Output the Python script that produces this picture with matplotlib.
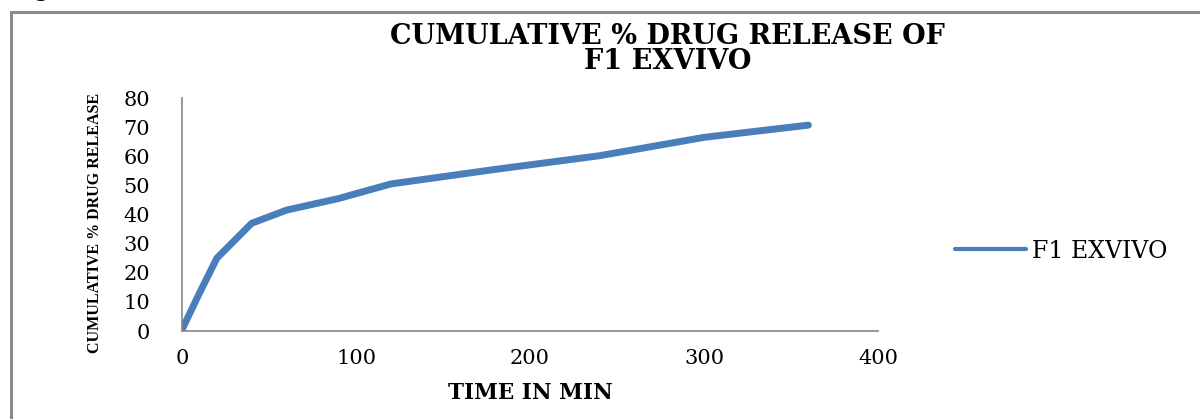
import matplotlib.pyplot as plt
import matplotlib.patches as patches
import numpy as np

# tempo (min) e rilascio cumulativo (%) della formulazione F1
tempo = [0, 10, 20, 30, 40, 60, 90, 120, 180, 240, 300, 360]
rilascio = [0.5, 13, 25, 31, 37, 41.5, 45.5, 50.5, 55.5, 60.2, 66.5, 70.7]
serie = "F1 EXVIVO"
yticks = [0, 10, 20, 30, 40, 50, 60, 70, 80]
xticks = [0, 100, 200, 300, 400]

blu = '#4A7EBB'
grigio = '#868686'
serif = ['DejaVu Serif']

fig = plt.figure(figsize=(12, 4.19), dpi=100)
ax = fig.add_axes([0.1517, 0.21, 0.58, 0.556])

ax.plot(tempo, rilascio, color=blu, linewidth=5, solid_capstyle='round',
        solid_joinstyle='round', label=serie)

ax.set_xlim(0, 400)
ax.set_ylim(0, 80)
ax.set_xticks(xticks)
ax.set_yticks(yticks)
ax.tick_params(length=0, labelsize=15)
ax.tick_params(axis='y', pad=23)
ax.tick_params(axis='x', pad=13)
for lab in ax.get_xticklabels() + ax.get_yticklabels():
    lab.set_family(serif)

for s in ['top', 'right']:
    ax.spines[s].set_visible(False)
for s in ['left', 'bottom']:
    ax.spines[s].set_color(grigio)
    ax.spines[s].set_linewidth(1.2)

ax.set_xlabel("TIME IN MIN", family=serif, fontweight='bold', fontsize=15.5,
              labelpad=10)
ax.set_ylabel("CUMULATIVE % DRUG RELEASE",
              family=['Liberation Serif', 'DejaVu Serif'],
              fontsize=11.5, fontweight='bold')
ax.yaxis.set_label_coords(-0.114, 0.463)

fig.text(0.556, 0.945, "CUMULATIVE % DRUG RELEASE OF\nF1 EXVIVO",
         ha='center', va='top', family=serif, fontweight='bold',
         fontsize=19.5, linespacing=0.88)

leg = ax.legend(loc='center left', bbox_to_anchor=(1.08, 0.343), frameon=False,
                handlelength=3.0, handletextpad=0.25,
                prop={'family': serif, 'size': 17})
for h in leg.get_lines():
    h.set_linewidth(3)

# cornice grigia attorno al grafico
cornice = patches.Rectangle((11 / 1200, -0.1), 1.2, 0.971 + 0.1,
                            transform=fig.transFigure, fill=False,
                            edgecolor='#8a8a8a', linewidth=2.2)
fig.patches.append(cornice)

# didascalia tagliata in alto
fig.text(0.012, 1 + 3 / 419, "Fig", ha='left', va='baseline', family=serif,
         fontweight='bold', fontsize=14)

fig.savefig('out.png', dpi=100)
